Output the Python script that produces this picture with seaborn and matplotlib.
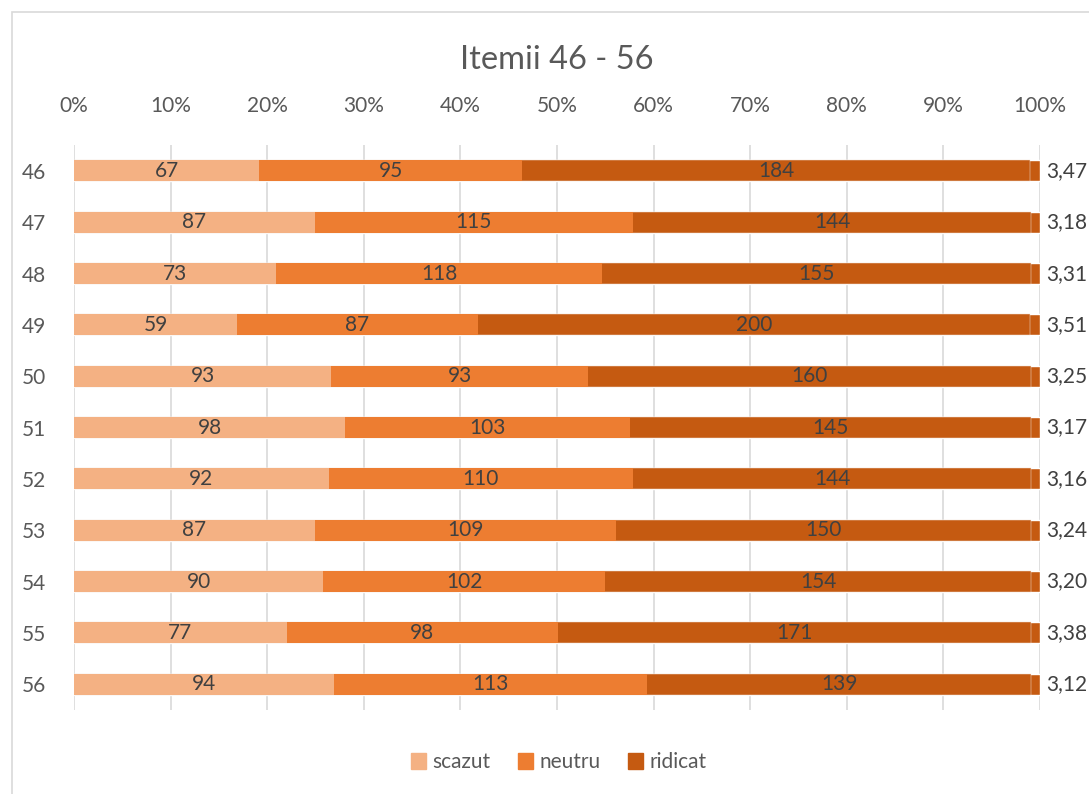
import numpy as np
import pandas as pd
import matplotlib.pyplot as plt
import seaborn as sns
from matplotlib.patches import Patch, Rectangle

# values
items = ["46", "47", "48", "49", "50", "51", "52", "53", "54", "55", "56"]
scazut = [67, 87, 73, 59, 93, 98, 92, 87, 90, 77, 94]
neutru = [95, 115, 118, 87, 93, 103, 110, 109, 102, 98, 113]
ridicat = [184, 144, 155, 200, 160, 145, 144, 150, 154, 171, 139]
medie = [3.47, 3.18, 3.31, 3.51, 3.25, 3.17, 3.16, 3.24, 3.20, 3.38, 3.12]

c_low, c_mid, c_high = "#F4B183", "#ED7D31", "#C55A11"
txt = "#595959"

sns.set_style("white")
plt.rcParams["font.family"] = ["Lato", "DejaVu Sans"]

df = pd.DataFrame({"item": items, "scazut": scazut, "neutru": neutru,
                   "ridicat": ridicat, "medie": medie})
total = df[["scazut", "neutru", "ridicat", "medie"]].sum(axis=1)
df["p1"] = df["scazut"] / total * 100
df["p2"] = (df["scazut"] + df["neutru"]) / total * 100
df["p3"] = (df["scazut"] + df["neutru"] + df["ridicat"]) / total * 100
df["p4"] = 100.0

fig = plt.figure(figsize=(10.89, 7.94), dpi=100)
ax = fig.add_axes([0.068, 0.106, 0.887, 0.711])

bw = 0.41
# stacked look by overlaying cumulative bars
sns.barplot(data=df, x="p4", y="item", orient="h", color=c_high, width=bw,
            saturation=1, errorbar=None, ax=ax)
sns.barplot(data=df, x="p3", y="item", orient="h", color=c_high, width=bw,
            saturation=1, errorbar=None, ax=ax, edgecolor="#F2E0D4", linewidth=0.35)
sns.barplot(data=df, x="p2", y="item", orient="h", color=c_mid, width=bw,
            saturation=1, errorbar=None, ax=ax, linewidth=0)
sns.barplot(data=df, x="p1", y="item", orient="h", color=c_low, width=bw,
            saturation=1, errorbar=None, ax=ax, linewidth=0)

fs = 15
for i, row in df.iterrows():
    ax.text(row.p1 / 2, i, str(row.scazut), ha="center", va="center",
            fontsize=fs, color="#404040")
    ax.text((row.p1 + row.p2) / 2, i, str(row.neutru), ha="center", va="center",
            fontsize=fs, color="#404040")
    ax.text((row.p2 + row.p3) / 2, i, str(row.ridicat), ha="center", va="center",
            fontsize=fs, color="#404040")
    ax.text(100.6, i, f"{row.medie:.2f}".replace(".", ","), ha="left", va="center",
            fontsize=fs, color="#404040", clip_on=False)

ax.set_xlim(0, 100)
ax.set_ylim(10.5, -0.5)
ax.set_xticks(np.arange(0, 101, 10))
ax.set_xticklabels([f"{v}%" for v in range(0, 101, 10)])
ax.xaxis.tick_top()
ax.tick_params(axis="x", length=0, pad=21, labelsize=fs, labelcolor=txt)
ax.tick_params(axis="y", length=0, pad=20, labelsize=fs, labelcolor=txt)
ax.set_xlabel("")
ax.set_ylabel("")
ax.grid(axis="x", color="#D9D9D9", linewidth=1.2)
ax.set_axisbelow(True)
for s in ax.spines.values():
    s.set_visible(False)

fig.text(0.511, 0.924, "Itemii 46 - 56", ha="center", va="center",
         fontsize=23.5, color=txt)

handles = [Patch(color=c_low, label="scazut"), Patch(color=c_mid, label="neutru"),
           Patch(color=c_high, label="ridicat")]
fig.legend(handles=handles, loc="center", bbox_to_anchor=(0.513, 0.04), ncol=3,
           frameon=False, fontsize=fs, labelcolor=txt, handlelength=0.75,
           handleheight=0.75, handletextpad=0.3, columnspacing=1.3)

fig.patches.append(Rectangle((0.011, -0.01), 0.99, 0.995, transform=fig.transFigure,
                             fill=False, edgecolor="#D9D9D9", linewidth=1.2))

fig.savefig("out.png", dpi=100)
